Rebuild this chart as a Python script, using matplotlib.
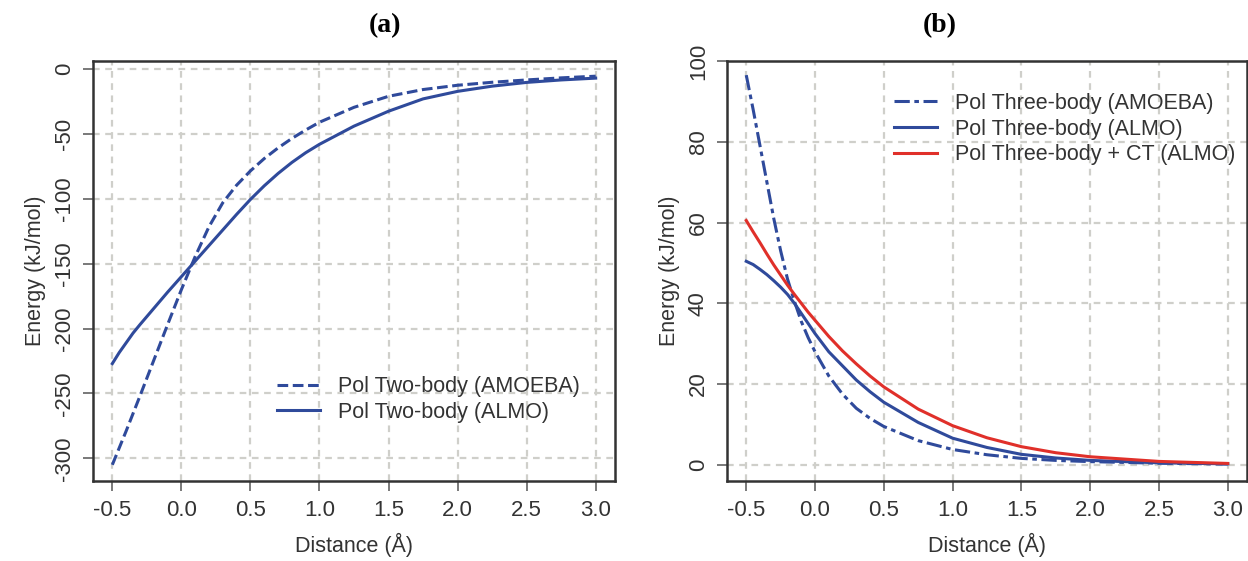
import matplotlib
matplotlib.use('Agg')
import matplotlib.pyplot as plt

# panel (a): polarization two-body energy vs distance
dist_a = [-0.5, -0.45, -0.4, -0.35, -0.3, -0.2, -0.1, 0.0, 0.1, 0.2, 0.3, 0.4, 0.5, 0.6,
          0.7, 0.8, 0.9, 1.0, 1.25, 1.5, 1.75, 2.0, 2.25, 2.5, 2.75, 3.0]
amoeba_2b = [-305, -292, -279, -265.5, -252, -224.5, -197, -170, -144.5, -121.5, -103, -89.5,
             -78.5, -69, -60.8, -53.5, -47, -41, -29.5, -21, -15.8, -12.5, -10.2, -8.4,
             -6.8, -5.5]
almo_2b = [-227, -218.5, -211, -203.5, -197, -184.5, -172, -160, -148, -136, -124, -112,
           -100.5, -90, -80.5, -72, -64.5, -58, -44, -32.5, -23, -17.2, -13.2, -10.3,
           -8.4, -7.0]

# panel (b): polarization three-body energy vs distance
dist_b = [-0.5, -0.45, -0.4, -0.35, -0.3, -0.25, -0.2, -0.15, -0.1, -0.05, 0.0, 0.1, 0.2,
          0.3, 0.4, 0.5, 0.75, 1.0, 1.25, 1.5, 1.75, 2.0, 2.5, 3.0]
amoeba_3b = [96.5, 88, 79, 70, 61, 53, 46, 40.5, 35.5, 31.5, 28, 22, 17.5,
             14, 11.5, 9.5, 6.0, 3.8, 2.5, 1.6, 1.1, 0.8, 0.4, 0.2]
almo_3b = [50.4, 49.6, 48.4, 47.1, 45.6, 44.0, 42.2, 40.0, 37.5, 35.0, 32.5, 28.0, 24.5,
           21.0, 18.1, 15.5, 10.5, 6.6, 4.3, 2.6, 1.7, 1.1, 0.5, 0.25]
almo_ct_3b = [60.5, 57.7, 55.0, 52.2, 49.5, 47.0, 44.5, 42.2, 40.0, 37.8, 35.8, 31.8, 28.2,
              25.0, 22.0, 19.3, 13.8, 9.7, 6.7, 4.5, 3.0, 2.0, 0.85, 0.35]

xticks = [-0.5, 0.0, 0.5, 1.0, 1.5, 2.0, 2.5, 3.0]
yticks_a = [0, -50, -100, -150, -200, -250, -300]
yticks_b = [0, 20, 40, 60, 80, 100]

blue = '#2f4a9b'
red = '#e0302a'
grid_col = '#cfcfca'
txt_col = '#333333'

plt.rcParams['font.family'] = ['Liberation Sans', 'DejaVu Sans']

fig = plt.figure(figsize=(12.48, 5.61), dpi=100)
ax_a = fig.add_axes([93/1248, 1-481/561, 522/1248, 420/561])
ax_b = fig.add_axes([727/1248, 1-481/561, 520/1248, 420/561])


def style_axes(ax, yticks):
    ax.set_xlim(-0.64, 3.14)
    ax.set_xticks(xticks)
    ax.set_xticklabels(['%.1f' % t for t in xticks])
    ax.set_yticks(yticks)
    ax.set_yticklabels([str(t) for t in yticks], rotation=90, va='center')
    ax.grid(True, color=grid_col, linewidth=1.6, linestyle=(0, (3, 2.5)))
    ax.set_axisbelow(True)
    for s in ax.spines.values():
        s.set_color('#333333')
        s.set_linewidth(1.8)
    ax.tick_params(direction='out', length=7, width=1.1, color='#555555',
                   labelsize=16, labelcolor=txt_col)
    ax.tick_params(axis='x', pad=7)
    ax.tick_params(axis='y', pad=6)
    ax.set_xlabel('Distance (Å)', fontsize=15.5, color=txt_col, labelpad=8)
    ax.set_ylabel('Energy (kJ/mol)', fontsize=15.5, color=txt_col, labelpad=6)


# (a)
ax_a.plot(dist_a, amoeba_2b, color=blue, lw=2.2, linestyle=(0, (3.5, 1.5)),
          label='Pol Two-body (AMOEBA)')
ax_a.plot(dist_a, almo_2b, color=blue, lw=2.2, label='Pol Two-body (ALMO)')
ax_a.set_ylim(-317.5, 6.2)
style_axes(ax_a, yticks_a)
ax_a.legend(loc='center left', bbox_to_anchor=(0.352, 0.194), frameon=False,
            fontsize=15.5, handlelength=2.0, handletextpad=0.85, labelspacing=0.22,
            borderpad=0, borderaxespad=0, labelcolor=txt_col)

# (b)
ax_b.plot(dist_b, amoeba_3b, color=blue, lw=2.2, linestyle=(0, (5, 1.5, 1.5, 1.5)),
          label='Pol Three-body (AMOEBA)')
ax_b.plot(dist_b, almo_3b, color=blue, lw=2.2, label='Pol Three-body (ALMO)')
ax_b.plot(dist_b, almo_ct_3b, color=red, lw=2.2, label='Pol Three-body + CT (ALMO)')
ax_b.set_ylim(-4.0, 100.0)
style_axes(ax_b, yticks_b)
ax_b.legend(loc='center left', bbox_to_anchor=(0.321, 0.838), frameon=False,
            fontsize=15.5, handlelength=2.0, handletextpad=0.85, labelspacing=0.22,
            borderpad=0, borderaxespad=0, labelcolor=txt_col)

fig.text(385/1248, 1-26/561, '(a)', ha='center', va='center', fontsize=20,
         fontweight='bold', family='Liberation Serif')
fig.text(940/1248, 1-26/561, '(b)', ha='center', va='center', fontsize=20,
         fontweight='bold', family='Liberation Serif')

fig.savefig('out.png', dpi=100)
